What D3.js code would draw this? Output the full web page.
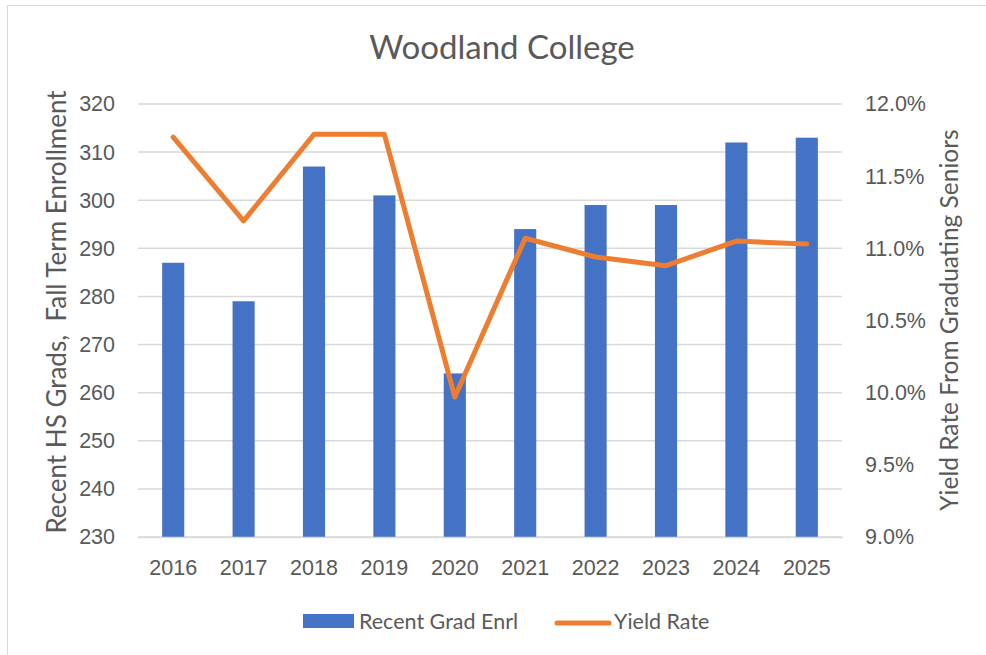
<!DOCTYPE html>
<html>
<head>
<meta charset="utf-8">
<script src="https://cdn.jsdelivr.net/npm/d3@7"></script>
<style>
  body { margin: 0; background: #fff; }
  svg { display: block; font-family: Lato, "Noto Sans", sans-serif; }
</style>
</head>
<body>
<svg id="chart" width="986" height="655"></svg>
<script>
// データ
const years = ['2016', '2017', '2018', '2019', '2020', '2021', '2022', '2023', '2024', '2025'];
const enrollment = [287, 279, 307, 301, 264, 294, 299, 299, 312, 313];
const yieldRate = [11.77, 11.19, 11.79, 11.79, 9.97, 11.07, 10.94, 10.88, 11.05, 11.03];
const leftTicks = [230, 240, 250, 260, 270, 280, 290, 300, 310, 320];
const rightTicks = [9.0, 9.5, 10.0, 10.5, 11.0, 11.5, 12.0];

const svg = d3.select('#chart');
const textColor = '#595959';
const margin = { left: 138, right: 144, top: 104, bottom: 118 };
const width = 986, height = 655;

// 外枠
svg.append('rect')
  .attr('x', 7.5).attr('y', 5.5)
  .attr('width', 990).attr('height', 660)
  .attr('fill', 'none').attr('stroke', '#d9d9d9');

const x = d3.scaleBand()
  .domain(years)
  .range([margin.left, width - margin.right])
  .paddingInner(0.686).paddingOuter(0.343);

const yL = d3.scaleLinear().domain([230, 320]).range([height - margin.bottom, margin.top]);
const yR = d3.scaleLinear().domain([9, 12]).range([height - margin.bottom, margin.top]);

// グリッド線
svg.append('g')
  .selectAll('line')
  .data(leftTicks)
  .join('line')
  .attr('x1', margin.left).attr('x2', width - margin.right)
  .attr('y1', d => yL(d)).attr('y2', d => yL(d))
  .attr('stroke', '#d9d9d9').attr('stroke-width', 1.5);

// 左軸
const leftAxis = svg.append('g')
  .attr('transform', `translate(${margin.left},0)`)
  .call(d3.axisLeft(yL).tickValues(leftTicks).tickSize(0).tickPadding(23));
leftAxis.select('.domain').remove();
leftAxis.selectAll('text').attr('fill', textColor).style('font-size', '21.5px');

// 右軸
const rightAxis = svg.append('g')
  .attr('transform', `translate(${width - margin.right},0)`)
  .call(d3.axisRight(yR).tickValues(rightTicks).tickSize(0).tickPadding(23)
    .tickFormat(d => d.toFixed(1) + '%'));
rightAxis.select('.domain').remove();
rightAxis.selectAll('text').attr('fill', textColor).style('font-size', '21.5px');

// 棒グラフ
svg.append('g')
  .selectAll('rect')
  .data(enrollment)
  .join('rect')
  .attr('x', (d, i) => x(years[i]))
  .attr('y', d => yL(d))
  .attr('width', x.bandwidth())
  .attr('height', d => yL(230) - yL(d))
  .attr('fill', '#4472c4');

// x軸
const bottomAxis = svg.append('g')
  .attr('transform', `translate(0,${yL(230)})`)
  .call(d3.axisBottom(x).tickSize(0).tickPadding(23));
bottomAxis.select('.domain').attr('stroke', '#d9d9d9').attr('stroke-width', 1.5);
bottomAxis.selectAll('text').attr('fill', textColor).style('font-size', '21.5px');

// 折れ線
const line = d3.line()
  .x((d, i) => x(years[i]) + x.bandwidth() / 2)
  .y(d => yR(d));
svg.append('path')
  .datum(yieldRate)
  .attr('d', line)
  .attr('fill', 'none')
  .attr('stroke', '#ed7d31')
  .attr('stroke-width', 5)
  .attr('stroke-linejoin', 'round')
  .attr('stroke-linecap', 'round');

// タイトル
svg.append('text')
  .attr('x', 502).attr('y', 59)
  .attr('text-anchor', 'middle')
  .attr('fill', textColor)
  .style('font-size', '33px')
  .text('Woodland College');

// 軸タイトル
svg.append('text')
  .attr('transform', 'translate(66,312) rotate(-90)')
  .attr('text-anchor', 'middle')
  .attr('fill', textColor)
  .style('font-size', '26px')
  .attr('xml:space', 'preserve')
  .text('Recent HS Grads,  Fall Term Enrollment');

svg.append('text')
  .attr('transform', 'translate(958,320) rotate(-90)')
  .attr('text-anchor', 'middle')
  .attr('fill', textColor)
  .style('font-size', '24.5px')
  .text('Yield Rate From Graduating Seniors');

// 凡例
const legend = svg.append('g');
legend.append('rect')
  .attr('x', 303).attr('y', 614).attr('width', 51).attr('height', 14)
  .attr('fill', '#4472c4');
legend.append('text')
  .attr('x', 359).attr('y', 629)
  .attr('fill', textColor).style('font-size', '21.5px')
  .text('Recent Grad Enrl');
legend.append('line')
  .attr('x1', 557).attr('x2', 609).attr('y1', 623).attr('y2', 623)
  .attr('stroke', '#ed7d31').attr('stroke-width', 5).attr('stroke-linecap', 'round');
legend.append('text')
  .attr('x', 614).attr('y', 629)
  .attr('fill', textColor).style('font-size', '21.5px')
  .text('Yield Rate');
</script>
</body>
</html>
